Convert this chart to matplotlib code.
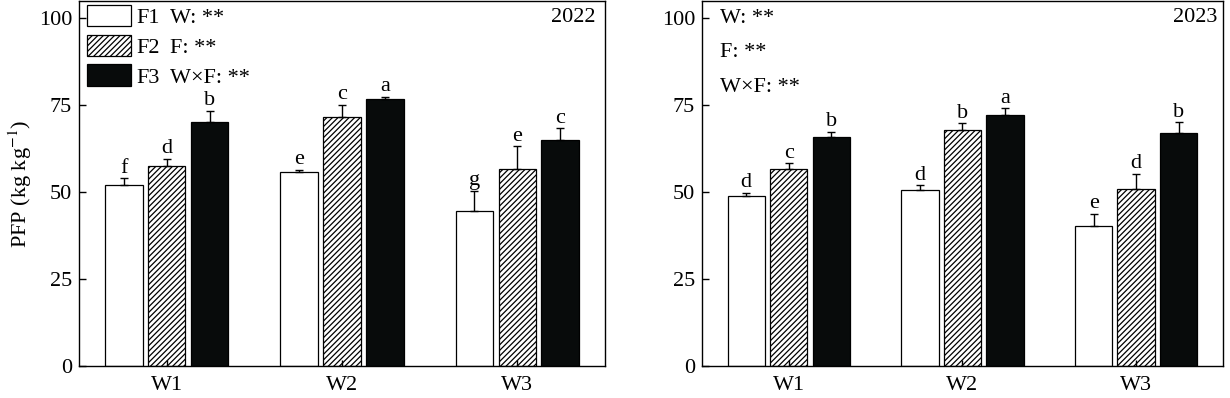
import numpy as np
import matplotlib
matplotlib.use("Agg")
import matplotlib.pyplot as plt
from matplotlib.patches import Patch

plt.rcParams["font.family"] = ["Liberation Serif", "DejaVu Serif"]
plt.rcParams["mathtext.fontset"] = "stix"
plt.rcParams["hatch.linewidth"] = 0.9

groups = ["W1", "W2", "W3"]
treatments = ["F1", "F2", "F3"]

# PFP 2022
pfp_2022 = {"F1": [52.0, 55.7, 44.5], "F2": [57.5, 71.6, 56.6], "F3": [70.1, 76.7, 65.0]}
err_2022 = {"F1": [2.0, 0.8, 5.8], "F2": [2.0, 3.5, 6.6], "F3": [3.4, 0.7, 3.4]}
let_2022 = {"F1": ["f", "e", "g"], "F2": ["d", "c", "e"], "F3": ["b", "a", "c"]}

# PFP 2023
pfp_2023 = {"F1": [48.9, 50.5, 40.2], "F2": [56.6, 67.8, 50.9], "F3": [65.8, 72.3, 67.0]}
err_2023 = {"F1": [0.9, 1.5, 3.5], "F2": [1.7, 2.0, 4.3], "F3": [1.5, 1.8, 3.1]}
let_2023 = {"F1": ["d", "d", "e"], "F2": ["c", "b", "d"], "F3": ["b", "a", "b"]}

stats = ["W: **", "F: **", "W×F: **"]

styles = {
    "F1": dict(facecolor="white", hatch=None),
    "F2": dict(facecolor="white", hatch="//////"),
    "F3": dict(facecolor="#080b0b", hatch=None),
}
offsets = {"F1": -0.245, "F2": 0.0, "F3": 0.245}
width = 0.215
fs = 16

fig = plt.figure(figsize=(12.3, 3.98), dpi=100)
ax1 = fig.add_axes([0.0642, 0.0804, 0.4277, 0.917])
ax2 = fig.add_axes([0.5707, 0.0804, 0.4236, 0.917])


def draw_panel(ax, vals, errs, lets, year, year_x):
    x = np.arange(len(groups))
    for t in treatments:
        pos = x + offsets[t]
        ax.bar(pos, vals[t], width, color=styles[t]["facecolor"], hatch=styles[t]["hatch"],
               edgecolor="black", linewidth=0.9, zorder=1)
        ax.errorbar(pos, vals[t], yerr=[np.zeros(3), errs[t]], fmt="none", ecolor="black",
                    elinewidth=1.0, capsize=3, capthick=1.0, zorder=2)
        for p, v, e, l in zip(pos, vals[t], errs[t], lets[t]):
            ax.annotate(l, (p, v + e), xytext=(0, 0.5), textcoords="offset points",
                        ha="center", va="bottom", fontsize=fs)
    ax.set_xlim(-0.5, 2.5)
    ax.set_ylim(0, 105)
    ax.set_xticks(x)
    ax.set_xticklabels(groups, fontsize=fs)
    ax.set_yticks([0, 25, 50, 75, 100])
    ax.tick_params(axis="y", direction="in", length=5, width=1.0, labelsize=fs, pad=5)
    ax.tick_params(axis="x", direction="in", length=4, width=1.0, labelsize=fs, pad=7)
    for s in ax.spines.values():
        s.set_linewidth(1.0)
    ax.text(year_x, 0.956, year, transform=ax.transAxes,
            ha="right", va="center", fontsize=fs)


draw_panel(ax1, pfp_2022, err_2022, let_2022, "2022", 0.981)
draw_panel(ax2, pfp_2023, err_2023, let_2023, "2023", 0.99)

ax1.set_ylabel("PFP (kg kg$^{-1}$)", fontsize=fs, labelpad=3)

handles = [Patch(facecolor=styles[t]["facecolor"], hatch=styles[t]["hatch"],
                 edgecolor="black", linewidth=0.9) for t in treatments]
ax1.legend(handles, treatments, loc="upper left", bbox_to_anchor=(0.015, 0.99),
           frameon=False, fontsize=fs, handlelength=2.0, handleheight=1.1,
           handletextpad=0.25, labelspacing=0.3, borderpad=0, borderaxespad=0)

for s, yy in zip(stats, [0.952, 0.871, 0.789]):
    ax1.text(0.173, yy, s, transform=ax1.transAxes, ha="left", va="center", fontsize=fs)
for s, yy in zip(stats, [0.953, 0.860, 0.764]):
    ax2.text(0.035, yy, s, transform=ax2.transAxes, ha="left", va="center", fontsize=fs)

fig.savefig("out.png", dpi=100)
